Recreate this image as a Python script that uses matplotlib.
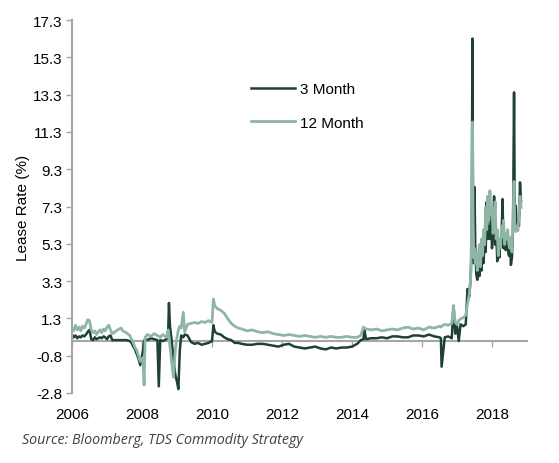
import matplotlib.pyplot as plt

# decimal year, 3 month lease rate, 12 month lease rate (%)
years = [
    2006.00, 2006.05, 2006.10, 2006.15, 2006.20, 2006.25, 2006.30, 2006.35, 2006.40, 2006.45,
    2006.50, 2006.55, 2006.60, 2006.65, 2006.70, 2006.75, 2006.80, 2006.85, 2006.90, 2006.95,
    2007.00, 2007.05, 2007.10, 2007.15, 2007.20, 2007.30, 2007.40, 2007.45, 2007.55, 2007.65,
    2007.70, 2007.75, 2007.80, 2007.85, 2007.90, 2007.95, 2008.02, 2008.06, 2008.09, 2008.15,
    2008.25, 2008.35, 2008.44, 2008.48, 2008.52, 2008.60, 2008.70, 2008.75, 2008.77, 2008.80,
    2008.85, 2008.90, 2008.95, 2009.00, 2009.04, 2009.08, 2009.12, 2009.18, 2009.22, 2009.30,
    2009.40, 2009.50, 2009.60, 2009.70, 2009.80, 2009.90, 2010.00, 2010.04, 2010.08, 2010.15,
    2010.25, 2010.35, 2010.45, 2010.55, 2010.65, 2010.75, 2010.85, 2011.00, 2011.15, 2011.30,
    2011.45, 2011.60, 2011.75, 2011.90, 2012.05, 2012.20, 2012.35, 2012.50, 2012.65, 2012.80,
    2012.95, 2013.10, 2013.25, 2013.40, 2013.55, 2013.70, 2013.85, 2014.00, 2014.15, 2014.25,
    2014.33, 2014.35, 2014.40, 2014.55, 2014.70, 2014.85, 2015.00, 2015.15, 2015.30, 2015.45,
    2015.60, 2015.75, 2015.90, 2016.05, 2016.20, 2016.35, 2016.50, 2016.54, 2016.56, 2016.65,
    2016.75, 2016.85, 2016.90, 2016.95, 2017.00, 2017.05, 2017.10, 2017.18, 2017.25, 2017.30,
    2017.35, 2017.39, 2017.42, 2017.44, 2017.46, 2017.48, 2017.50, 2017.52, 2017.55, 2017.58,
    2017.61, 2017.64, 2017.67, 2017.70, 2017.73, 2017.76, 2017.79, 2017.82, 2017.85, 2017.88,
    2017.91, 2017.94, 2017.97, 2018.00, 2018.03, 2018.06, 2018.09, 2018.12, 2018.15, 2018.18,
    2018.21, 2018.24, 2018.27, 2018.30, 2018.33, 2018.36, 2018.39, 2018.42, 2018.45, 2018.48,
    2018.51, 2018.54, 2018.57, 2018.60, 2018.63, 2018.65, 2018.68, 2018.71, 2018.74, 2018.77,
    2018.80, 2018.83,
]
month3 = [
    0.35, 0.20, 0.30, 0.15, 0.25, 0.20, 0.30, 0.25, 0.35, 0.50,
    0.60, 0.10, 0.05, 0.20, 0.10, 0.15, 0.20, 0.15, 0.25, 0.20,
    0.10, 0.25, 0.30, 0.05, 0.05, 0.05, 0.05, 0.05, 0.05, 0.00,
    -0.10, -0.30, -0.45, -0.70, -0.95, -1.30, -0.60, 0.00, 0.10, 0.05,
    0.15, 0.10, 0.05, -2.44, 0.05, 0.00, 0.10, 0.60, 2.05, 0.80,
    0.00, -1.00, -1.80, -2.20, -2.59, -0.50, 0.30, 0.20, 0.35, 0.30,
    -0.05, -0.15, -0.10, -0.20, -0.15, -0.10, 0.00, 0.85, 0.50, 0.40,
    0.35, 0.20, 0.10, 0.05, -0.10, -0.10, -0.15, -0.20, -0.20, -0.15,
    -0.15, -0.20, -0.25, -0.30, -0.20, -0.15, -0.30, -0.35, -0.40, -0.35,
    -0.30, -0.40, -0.45, -0.35, -0.40, -0.35, -0.35, -0.30, -0.15, 0.05,
    0.10, 0.68, 0.10, 0.15, 0.15, 0.20, 0.15, 0.25, 0.25, 0.20,
    0.20, 0.30, 0.30, 0.25, 0.35, 0.25, 0.20, 0.15, -1.38, 0.20,
    0.25, 0.15, 1.90, 0.40, 0.80, 0.00, 0.90, 0.80, 0.90, 2.80,
    2.40, 3.40, 5.00, 16.30, 5.50, 4.20, 8.30, 5.30, 3.60, 3.30,
    4.20, 3.50, 4.80, 3.80, 5.00, 4.20, 5.80, 4.80, 7.50, 5.50,
    6.20, 5.50, 6.80, 5.00, 5.80, 7.80, 5.20, 6.00, 4.30, 5.00,
    4.50, 5.50, 5.20, 7.65, 5.00, 5.80, 4.90, 5.40, 5.00, 4.60,
    5.50, 4.10, 4.50, 6.00, 13.40, 7.00, 7.30, 6.00, 6.50, 6.20,
    8.55, 7.50,
]
month12 = [
    0.70, 0.55, 0.85, 0.60, 0.75, 0.55, 0.80, 0.70, 0.90, 1.15,
    1.10, 0.60, 0.45, 0.55, 0.35, 0.50, 0.60, 0.45, 0.65, 0.55,
    0.75, 0.85, 0.60, 0.40, 0.45, 0.60, 0.70, 0.55, 0.45, 0.30,
    0.10, -0.10, -0.35, -0.50, -0.80, -1.10, -0.90, -2.37, 0.20, 0.35,
    0.25, 0.40, 0.30, 0.25, 0.20, 0.35, 0.20, 0.60, 0.30, -0.30,
    -1.20, -1.95, -0.50, 0.20, 0.60, 0.80, 0.70, 1.55, 0.50, 0.90,
    0.95, 1.00, 0.95, 1.05, 1.00, 1.10, 1.00, 2.26, 1.90, 1.75,
    1.65, 1.50, 1.20, 0.95, 0.80, 0.70, 0.65, 0.55, 0.60, 0.50,
    0.45, 0.50, 0.40, 0.35, 0.30, 0.35, 0.30, 0.25, 0.30, 0.25,
    0.20, 0.25, 0.20, 0.25, 0.20, 0.20, 0.25, 0.20, 0.20, 0.30,
    0.75, 0.70, 0.65, 0.60, 0.65, 0.55, 0.60, 0.65, 0.60, 0.70,
    0.75, 0.65, 0.70, 0.60, 0.75, 0.70, 0.80, 0.75, 0.80, 0.90,
    0.85, 0.95, 1.90, 1.00, 0.90, 1.10, 1.20, 1.25, 1.40, 2.00,
    2.50, 3.40, 6.00, 11.80, 6.50, 4.50, 5.00, 4.20, 4.80, 3.80,
    4.50, 5.20, 4.00, 5.50, 4.60, 6.00, 5.20, 7.20, 6.00, 7.80,
    6.50, 8.10, 6.80, 7.20, 5.80, 6.50, 7.50, 5.50, 6.00, 4.60,
    5.40, 5.00, 6.20, 5.60, 6.50, 5.20, 5.80, 5.50, 6.00, 5.20,
    5.00, 5.60, 4.80, 6.50, 8.60, 6.20, 5.90, 6.20, 5.95, 6.80,
    7.80, 7.20,
]

ytick_vals = [-2.8, -0.79, 1.22, 3.23, 5.24, 7.25, 9.26, 11.27, 13.28, 15.29, 17.3]
ytick_labels = ['-2.8', '-0.8', '1.3', '3.3', '5.3', '7.3', '9.3', '11.3', '13.3', '15.3', '17.3']
xtick_vals = [2006, 2008, 2010, 2012, 2014, 2016, 2018]

dark = '#1F4133'
light = '#8FB5A5'
grey = '#A6A6A6'

plt.rcParams['font.family'] = ['Liberation Sans', 'DejaVu Sans']

fig = plt.figure(figsize=(5.59, 4.64), dpi=100)
ax = fig.add_axes([72 / 559, 1 - 394 / 464, 455 / 559, 373 / 464])

ax.plot(years, month3, color=dark, lw=1.8, label='3 Month', zorder=2)
ax.plot(years, month12, color=light, lw=2.0, label='12 Month', zorder=3)

ax.set_xlim(2006, 2019)
ax.set_ylim(-2.8, 17.3)

ax.set_yticks(ytick_vals)
ax.set_yticklabels(ytick_labels)
ax.set_xticks(xtick_vals)
ax.set_xticklabels([str(v) for v in xtick_vals])

for s in ['top', 'right', 'bottom']:
    ax.spines[s].set_visible(False)
ax.spines['left'].set_color(grey)
ax.spines['left'].set_linewidth(1.5)

ax.tick_params(axis='y', colors=grey, labelcolor='black', length=4, width=1, labelsize=11, pad=3)
ax.tick_params(axis='x', length=0, labelsize=11, pad=10)

# zero line with its own ticks
sec = ax.secondary_xaxis(0, transform=ax.transData)
sec.set_xticks(xtick_vals)
sec.set_xticklabels([])
sec.spines['bottom'].set_color(grey)
sec.spines['bottom'].set_linewidth(1.5)
sec.tick_params(axis='x', colors=grey, length=4, width=1)

ax.set_ylabel('Lease Rate (%)', fontsize=11, labelpad=2)

ax.legend(loc='upper left', bbox_to_anchor=(0.363, 0.871), frameon=False, fontsize=11,
          handlelength=2.9, handletextpad=0.3, labelspacing=1.3)

fig.text(22 / 559, 1 - 441 / 464, 'Source: Bloomberg, TDS Commodity Strategy',
         fontsize=10.3, style='italic', color='#404040', va='center', ha='left',
         family=['Open Sans', 'DejaVu Sans'])

fig.savefig('out.png', dpi=100)
